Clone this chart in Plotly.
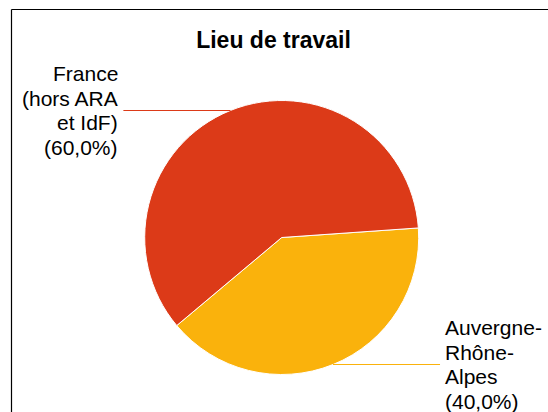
import math
import plotly.graph_objects as go

# ---- data ----
title_text = "Lieu de travail"
labels = ["Auvergne-Rhône-Alpes", "France (hors ARA et IdF)"]
label_lines = [["Auvergne-", "Rhône-", "Alpes"], ["France", "(hors ARA", "et IdF)"]]
values = [40, 60]
colors = ["#FAB20C", "#DC3A18"]

# ---- layout constants (pixels) ----
W, H = 548, 412
cx, cy, r = 281.7, 237.5, 137.0
rotation = 86.0
leader_len = 107.0
text_gap = 3.0
font_size = 21
line_spacing = 24.5
font_family = "Liberation Sans, Arial, sans-serif"

def px(x):
    return x / W

def py(y):
    return 1 - y / H

fig = go.Figure()
fig.add_trace(go.Pie(
    labels=labels,
    values=values,
    sort=False,
    direction="clockwise",
    rotation=rotation,
    marker=dict(colors=colors, line=dict(color="white", width=1)),
    textinfo="none",
    hoverinfo="skip",
    showlegend=False,
    domain=dict(x=[px(cx - r), px(cx + r)], y=[py(cy + r), py(cy - r)]),
))

total = sum(values)
shapes = []
annotations = []
cum = 0.0
for lab_lines, v, col in zip(label_lines, values, colors):
    mid = rotation + (cum + v / 2) / total * 360.0
    cum += v
    a = math.radians(mid)
    x0 = cx + r * math.sin(a)
    y0 = cy - r * math.cos(a)
    side = 1 if math.sin(a) >= 0 else -1
    x1 = x0 + side * leader_len
    shapes.append(dict(type="line", xref="paper", yref="paper",
                       x0=px(x0), y0=py(y0), x1=px(x1), y1=py(y0),
                       line=dict(color=col, width=1.2)))
    pct = f"({v / total * 100:.1f}%)".replace(".", ",")
    lines = lab_lines + [pct]
    n = len(lines)
    tx = x1 + side * text_gap
    for i, t in enumerate(lines):
        ty = y0 + (i - (n - 1) / 2) * line_spacing
        annotations.append(dict(
            text=t, xref="paper", yref="paper", x=px(tx), y=py(ty),
            xanchor="left" if side > 0 else "right", yanchor="middle",
            showarrow=False, font=dict(size=font_size, color="#000000", family=font_family),
        ))

# frame (cropped chart border)
shapes.append(dict(type="line", xref="paper", yref="paper",
                   x0=px(11.5), y0=py(9.5), x1=1.05, y1=py(9.5),
                   line=dict(color="#000000", width=1.2)))
shapes.append(dict(type="line", xref="paper", yref="paper",
                   x0=px(11.5), y0=py(9.5), x1=px(11.5), y1=-0.05,
                   line=dict(color="#000000", width=1.2)))

fig.update_layout(
    width=W, height=H,
    margin=dict(l=0, r=0, t=0, b=0),
    paper_bgcolor="white",
    plot_bgcolor="white",
    title=dict(text="<b>" + title_text + "</b>", x=px(273.5), y=py(40), xanchor="center", yanchor="middle",
               font=dict(size=23, color="#000000", family=font_family)),
    shapes=shapes,
    annotations=annotations,
)

fig.write_html("out.html")
